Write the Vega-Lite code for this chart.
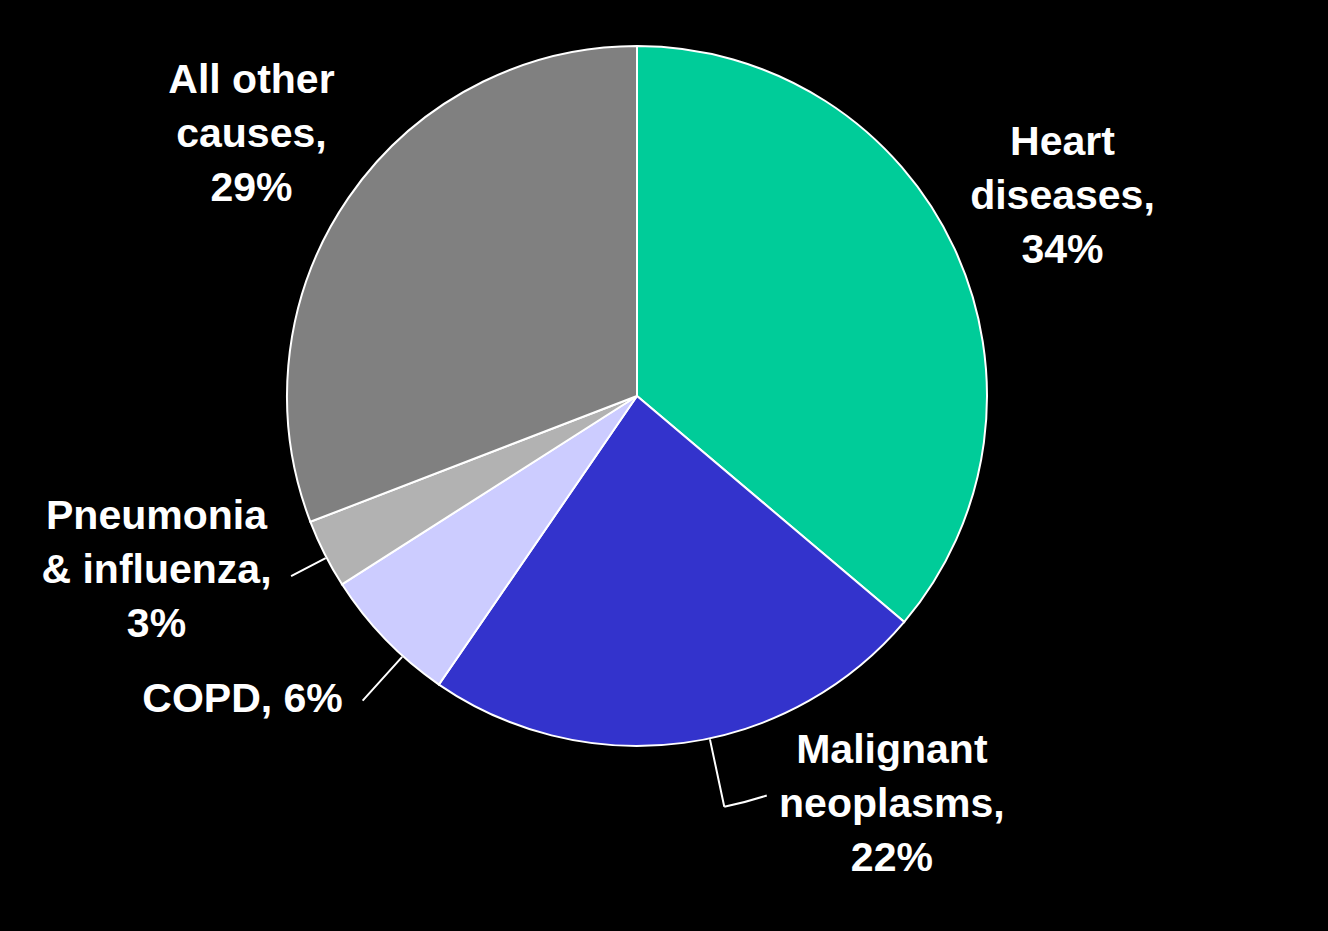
{
  "$schema": "https://vega.github.io/schema/vega-lite/v6.json",
  "width": 1262,
  "height": 782,
  "autosize": {"type": "none"},
  "padding": {"left": 6, "top": 5, "right": 60, "bottom": 144},
  "background": "black",
  "config": {
    "view": {"stroke": null},
    "text": {"font": "Liberation Sans", "fontWeight": "bold", "fontSize": 41, "fill": "white", "align": "center", "baseline": "middle", "lineHeight": 54, "lineBreak": "\n"}
  },
  "data": {
    "values": [
      {"cause": "Heart diseases", "v": 34, "rank": 1, "label": "Heart\ndiseases,\n34%"},
      {"cause": "Malignant neoplasms", "v": 22, "rank": 2, "label": "Malignant\nneoplasms,\n22%"},
      {"cause": "COPD", "v": 6, "rank": 3, "label": "COPD, 6%"},
      {"cause": "Pneumonia & influenza", "v": 3, "rank": 4, "label": "Pneumonia\n& influenza,\n3%"},
      {"cause": "All other causes", "v": 29, "rank": 5, "label": "All other\ncauses,\n29%"}
    ]
  },
  "transform": [
    {"stack": "v", "groupby": [], "sort": [{"field": "rank", "order": "ascending"}], "as": ["v0", "v1"]}
  ],
  "layer": [
    {
      "mark": {"type": "arc", "radius": 350, "stroke": "white", "strokeWidth": 2},
      "encoding": {
        "theta": {"field": "v0", "type": "quantitative", "stack": null, "scale": {"domain": [0, 94], "zero": true, "nice": false}},
        "theta2": {"field": "v1"},
        "color": {
          "field": "cause", "type": "nominal", "legend": null,
          "scale": {
            "domain": ["Heart diseases", "Malignant neoplasms", "COPD", "Pneumonia & influenza", "All other causes"],
            "range": ["#00CC99", "#3333CC", "#CCCCFF", "#B2B2B2", "#808080"]
          }
        }
      }
    },
    {
      "transform": [{"filter": "datum.cause === 'Malignant neoplasms'"}],
      "mark": {"type": "arc", "radius": 420, "radius2": 351, "thetaOffset": 0.6596, "theta2Offset": 0.6596, "stroke": "white", "strokeWidth": 2, "fillOpacity": 0},
      "encoding": {"theta": {"field": "v0", "type": "quantitative", "stack": null}, "theta2": {"field": "v0"}}
    },
    {
      "transform": [{"filter": "datum.cause === 'Malignant neoplasms'"}],
      "mark": {"type": "arc", "radius": 420, "radius2": 420, "thetaOffset": 0.5548, "theta2Offset": 0.6596, "stroke": "white", "strokeWidth": 2, "fillOpacity": 0},
      "encoding": {"theta": {"field": "v0", "type": "quantitative", "stack": null}, "theta2": {"field": "v0"}}
    },
    {
      "transform": [{"filter": "datum.cause === 'COPD'"}],
      "mark": {"type": "arc", "radius": 410, "radius2": 351, "thetaOffset": 0.1314, "theta2Offset": 0.1314, "stroke": "white", "strokeWidth": 2, "fillOpacity": 0},
      "encoding": {"theta": {"field": "v0", "type": "quantitative", "stack": null}, "theta2": {"field": "v0"}}
    },
    {
      "transform": [{"filter": "datum.cause === 'Pneumonia & influenza'"}],
      "mark": {"type": "arc", "radius": 390, "radius2": 351, "thetaOffset": 0.0881, "theta2Offset": 0.0881, "stroke": "white", "strokeWidth": 2, "fillOpacity": 0},
      "encoding": {"theta": {"field": "v0", "type": "quantitative", "stack": null}, "theta2": {"field": "v0"}}
    },
    {
      "transform": [{"filter": "datum.cause === 'Heart diseases'"}],
      "mark": {"type": "text", "radius": 470, "thetaOffset": 1.1319, "dy": -53},
      "encoding": {"theta": {"field": "v0", "type": "quantitative", "stack": null}, "text": {"field": "label"}}
    },
    {
      "transform": [{"filter": "datum.cause === 'Malignant neoplasms'"}],
      "mark": {"type": "text", "radius": 481, "thetaOffset": 0.3105, "dy": -53},
      "encoding": {"theta": {"field": "v0", "type": "quantitative", "stack": null}, "text": {"field": "label"}}
    },
    {
      "transform": [{"filter": "datum.cause === 'COPD'"}],
      "mark": {"type": "text", "radius": 498, "thetaOffset": 0.3126},
      "encoding": {"theta": {"field": "v0", "type": "quantitative", "stack": null}, "text": {"field": "label"}}
    },
    {
      "transform": [{"filter": "datum.cause === 'Pneumonia & influenza'"}],
      "mark": {"type": "text", "radius": 511, "thetaOffset": 0.2210, "dy": -53},
      "encoding": {"theta": {"field": "v0", "type": "quantitative", "stack": null}, "text": {"field": "label"}}
    },
    {
      "transform": [{"filter": "datum.cause === 'All other causes'"}],
      "mark": {"type": "text", "radius": 466, "thetaOffset": 0.9640, "dy": -53},
      "encoding": {"theta": {"field": "v0", "type": "quantitative", "stack": null}, "text": {"field": "label"}}
    }
  ]
}
